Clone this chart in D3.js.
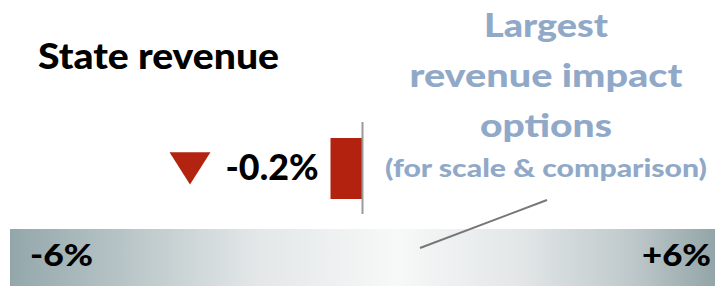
<!DOCTYPE html>
<html>
<head>
<meta charset="utf-8">
<script src="https://cdn.jsdelivr.net/npm/d3@7"></script>
<style>
  body { margin: 0; background: #fff; }
  svg text { font-family: Lato, "Open Sans", sans-serif; font-weight: 900; }
</style>
</head>
<body>
<div id="chart"></div>
<script>
// data
const categories = ['State revenue'];
const values = [-0.2];
const valueLabels = ['-0.2%'];
const scaleDomain = [-6, 6];
const scaleLabels = ['-6%', '+6%'];
const noteLines = ['Largest', 'revenue impact', 'options'];
const noteSub = '(for scale & comparison)';

const width = 715, height = 286;

const svg = d3.select('#chart')
    .append('svg')
    .attr('width', width)
    .attr('height', height);

// scale band (-6% .. +6%)
const x = d3.scaleLinear()
    .domain(scaleDomain)
    .range([10, width]);

// bar is drawn magnified so a small change is visible
const xBar = d3.scaleLinear()
    .domain([-1, 1])
    .range([x(0) - 160, x(0) + 160]);

const grad = svg.append('defs').append('linearGradient')
    .attr('id', 'band')
    .attr('x1', '0%').attr('x2', '100%');
[[0, '#93a7ab'], [0.18, '#bcc8ca'], [0.35, '#e3e7e8'], [0.55, '#f7f8f8'],
 [0.72, '#e3e7e8'], [0.88, '#bfc9cb'], [1, '#93a5a8']].forEach(s => {
    grad.append('stop').attr('offset', s[0]).attr('stop-color', s[1]);
});

svg.append('rect')
    .attr('x', x(scaleDomain[0]))
    .attr('y', 229)
    .attr('width', x(scaleDomain[1]) - x(scaleDomain[0]))
    .attr('height', height - 229)
    .attr('fill', 'url(#band)');

svg.append('text')
    .attr('x', x(scaleDomain[0]) + 20)
    .attr('y', 266)
    .attr('font-size', 31)
    .attr('textLength', 63)
    .attr('lengthAdjust', 'spacingAndGlyphs')
    .text(scaleLabels[0]);

svg.append('text')
    .attr('x', x(scaleDomain[1]) - 4)
    .attr('y', 266)
    .attr('text-anchor', 'end')
    .attr('font-size', 31)
    .attr('textLength', 69)
    .attr('lengthAdjust', 'spacingAndGlyphs')
    .text(scaleLabels[1]);

// title
svg.append('text')
    .attr('x', 38)
    .attr('y', 69)
    .attr('font-size', 36)
    .attr('textLength', 241)
    .attr('lengthAdjust', 'spacingAndGlyphs')
    .text(categories[0]);

// bar
svg.selectAll('.bar')
    .data(values)
    .enter().append('rect')
    .attr('class', 'bar')
    .attr('x', d => Math.min(xBar(d), xBar(0)))
    .attr('y', 138)
    .attr('width', d => Math.abs(xBar(d) - xBar(0)))
    .attr('height', 61)
    .attr('fill', '#b3220e');

// zero line
svg.append('line')
    .attr('x1', x(0)).attr('x2', x(0))
    .attr('y1', 122).attr('y2', 214)
    .attr('stroke', '#9a9a9a')
    .attr('stroke-width', 2);

// value label and arrow
svg.append('text')
    .attr('x', xBar(values[0]) - 12)
    .attr('y', 180)
    .attr('text-anchor', 'end')
    .attr('font-size', 36)
    .attr('textLength', 93)
    .attr('lengthAdjust', 'spacingAndGlyphs')
    .text(valueLabels[0]);

svg.append('path')
    .attr('d', d3.symbol().type(d3.symbolTriangle).size(600)())
    .attr('transform', 'translate(190,163) rotate(180) scale(1.1,1)')
    .attr('fill', '#b2240f');

// note text
const note = svg.append('g').attr('fill', '#91a9c8');
const noteWidths = [124, 273, 132];
noteLines.forEach((t, i) => {
    note.append('text')
        .attr('x', 546)
        .attr('y', 37 + i * 50)
        .attr('text-anchor', 'middle')
        .attr('font-size', 33)
        .attr('textLength', noteWidths[i])
        .attr('lengthAdjust', 'spacingAndGlyphs')
        .text(t);
});
note.append('text')
    .attr('x', 546)
    .attr('y', 177)
    .attr('text-anchor', 'middle')
    .attr('font-size', 24)
    .attr('textLength', 322)
    .attr('lengthAdjust', 'spacingAndGlyphs')
    .text(noteSub);

// leader line
svg.append('line')
    .attr('x1', 547).attr('y1', 200)
    .attr('x2', 420).attr('y2', 248)
    .attr('stroke', '#777')
    .attr('stroke-width', 2);
</script>
</body>
</html>
